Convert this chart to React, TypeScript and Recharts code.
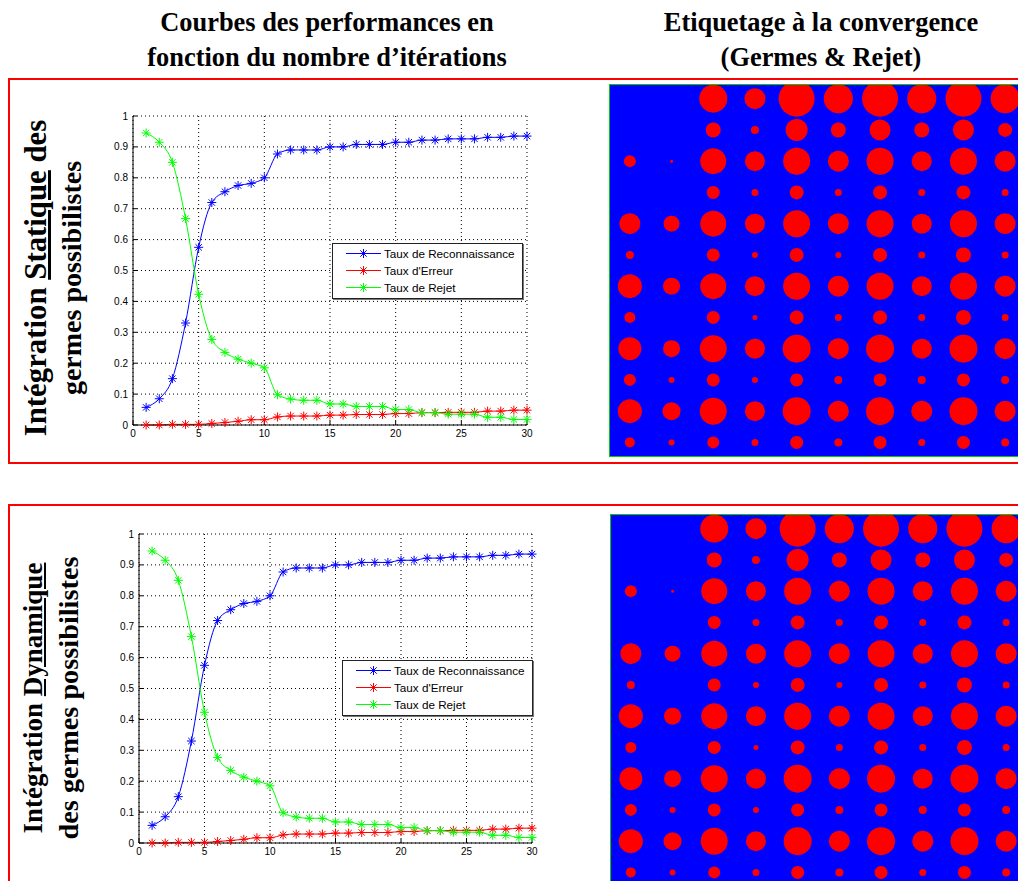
import {
  CartesianGrid,
  Legend,
  Line,
  LineChart,
  Scatter,
  ScatterChart,
  XAxis,
  YAxis,
  ZAxis,
} from 'recharts'

const iterations = [
  1, 2, 3, 4, 5, 6, 7, 8, 9, 10, 11, 12, 13, 14, 15, 16, 17, 18, 19, 20, 21, 22, 23, 24, 25, 26, 27, 28,
  29, 30,
]
const tauxReconnaissance = [
  0.057, 0.085, 0.15, 0.33, 0.575, 0.72, 0.755, 0.775, 0.782, 0.8, 0.877, 0.89, 0.89, 0.89, 0.9, 0.9,
  0.908, 0.908, 0.908, 0.915, 0.915, 0.922, 0.922, 0.926, 0.926, 0.926, 0.931, 0.931, 0.935, 0.935,
]
const tauxErreur = [
  0, 0, 0.002, 0.002, 0.002, 0.005, 0.008, 0.012, 0.017, 0.017, 0.026, 0.029, 0.029, 0.029, 0.032,
  0.032, 0.034, 0.034, 0.034, 0.037, 0.037, 0.04, 0.04, 0.041, 0.041, 0.041, 0.045, 0.045, 0.048, 0.048,
]
const tauxRejet = [
  0.945, 0.915, 0.85, 0.668, 0.423, 0.277, 0.235, 0.213, 0.2, 0.185, 0.098, 0.084, 0.08, 0.08, 0.068,
  0.068, 0.06, 0.06, 0.06, 0.05, 0.05, 0.04, 0.04, 0.035, 0.035, 0.035, 0.025, 0.025, 0.018, 0.018,
]
const xTicks = [0, 5, 10, 15, 20, 25, 30]
const yTicks = [0, 0.1, 0.2, 0.3, 0.4, 0.5, 0.6, 0.7, 0.8, 0.9, 1]
const seriesKeys = ['reco', 'erreur', 'rejet']
const seriesNames = ['Taux de Reconnaissance', "Taux d'Erreur", 'Taux de Rejet']
const seriesColors = ['#0000ff', '#ff0000', '#00ff00']

// diamètre des germes (px) par ligne / colonne de l'image étiquetée, 0 = rien
const germeRows = [
  [0, 0, 28, 21, 36, 29, 36, 29, 36, 29],
  [0, 0, 15, 8, 22, 15, 21, 15, 21, 14],
  [12, 3, 26, 20, 27, 21, 27, 20, 27, 21],
  [0, 0, 13, 7, 14, 7, 14, 7, 14, 7],
  [21, 16, 26, 20, 27, 21, 27, 20, 27, 21],
  [8, 0, 13, 6, 14, 6, 14, 7, 15, 7],
  [24, 17, 26, 20, 27, 21, 27, 20, 27, 21],
  [11, 0, 13, 5, 14, 7, 14, 7, 15, 7],
  [23, 17, 27, 20, 28, 21, 28, 20, 28, 21],
  [12, 6, 13, 6, 13, 8, 13, 8, 13, 8],
  [24, 18, 27, 20, 28, 21, 28, 21, 28, 21],
  [10, 6, 12, 7, 13, 8, 13, 7, 13, 8],
]

const perfData = iterations.map((it, i) => ({
  it,
  reco: tauxReconnaissance[i],
  erreur: tauxErreur[i],
  rejet: tauxRejet[i],
}))

const germeData = germeRows
  .flatMap((row, r) => row.map((d, c) => ({ x: c + 0.5, y: r + 0.5, z: (Math.PI * d * d) / 4 })))
  .filter((p) => p.z > 0)

const serif = '"Liberation Serif", "Times New Roman", serif'
const sans = '"Liberation Sans", Arial, sans-serif'
const tickStyle = { fontSize: 10, fill: '#000', fontFamily: sans }

function Asterisk({ cx, cy, stroke }: { cx?: number; cy?: number; stroke: string }) {
  if (cx == null || cy == null) return null
  const r = 4.5
  const d = 3.2
  return (
    <g stroke={stroke} strokeWidth={1}>
      <line x1={cx - r} y1={cy} x2={cx + r} y2={cy} />
      <line x1={cx} y1={cy - r} x2={cx} y2={cy + r} />
      <line x1={cx - d} y1={cy - d} x2={cx + d} y2={cy + d} />
      <line x1={cx - d} y1={cy + d} x2={cx + d} y2={cy - d} />
    </g>
  )
}

const emptyTick = () => <g />

function LegendBox() {
  return (
    <div
      style={{
        width: 189,
        height: 53,
        background: '#fff',
        border: '1px solid #222',
        boxShadow: '1px 1px 0 #777',
        fontFamily: sans,
        fontSize: 11.7,
        color: '#000',
        paddingTop: 1,
        boxSizing: 'content-box',
      }}
    >
      {seriesNames.map((name, i) => (
        <div key={name} style={{ display: 'flex', alignItems: 'center', height: 17 }}>
          <svg width={51} height={17}>
            <line x1={13} x2={48} y1={8.5} y2={8.5} stroke={seriesColors[i]} />
            <Asterisk cx={30.5} cy={8.5} stroke={seriesColors[i]} />
          </svg>
          <span style={{ whiteSpace: 'nowrap' }}>{name}</span>
        </div>
      ))}
    </div>
  )
}

function PerfChart({ marginRight, legendLeft, legendTop }: { marginRight: number; legendLeft: number; legendTop: number }) {
  return (
    <LineChart width={440} height={350} data={perfData} margin={{ top: 16, right: marginRight, bottom: 5, left: 0 }}>
      <CartesianGrid stroke="#000" strokeDasharray="1 3" />
      <XAxis
        dataKey="it"
        type="number"
        domain={[0, 30]}
        ticks={xTicks}
        interval={0}
        tickSize={-4}
        tickMargin={9}
        height={20}
        stroke="#000"
        tick={tickStyle}
      />
      <XAxis
        xAxisId="top"
        orientation="top"
        dataKey="it"
        type="number"
        domain={[0, 30]}
        ticks={xTicks}
        interval={0}
        tickSize={-4}
        height={0}
        stroke="#000"
        tick={emptyTick}
      />
      <YAxis
        type="number"
        domain={[0, 1]}
        ticks={yTicks}
        interval={0}
        tickSize={-4}
        tickMargin={9}
        width={33}
        stroke="#000"
        tick={tickStyle}
      />
      <YAxis
        yAxisId="right"
        orientation="right"
        type="number"
        domain={[0, 1]}
        ticks={yTicks}
        interval={0}
        tickSize={-4}
        width={0}
        stroke="#000"
        tick={emptyTick}
      />
      <Legend
        layout="vertical"
        align="center"
        verticalAlign="middle"
        content={() => <LegendBox />}
        wrapperStyle={{ left: legendLeft, top: legendTop, width: 'auto' }}
      />
      {seriesKeys.map((key, i) => (
        <Line
          key={key}
          type="monotone"
          dataKey={key}
          name={seriesNames[i]}
          stroke={seriesColors[i]}
          strokeWidth={1}
          dot={(p: any) => <Asterisk key={`${key}-${p.index}`} cx={p.cx} cy={p.cy} stroke={seriesColors[i]} />}
          activeDot={false}
          isAnimationActive={false}
        />
      ))}
    </LineChart>
  )
}

function GermesImage({ left, top, shiftX, shiftY, height }: { left: number; top: number; shiftX: number; shiftY: number; height: number }) {
  return (
    <div
      style={{
        position: 'absolute',
        left,
        top,
        width: 1018 - left + 2,
        height,
        background: '#0000ff',
        border: '1px solid #00cc00',
        overflow: 'hidden',
      }}
    >
      <div style={{ position: 'absolute', left: shiftX, top: shiftY }}>
        <ScatterChart width={417} height={375} margin={{ top: 0, right: 0, bottom: 0, left: 0 }}>
          <XAxis dataKey="x" type="number" domain={[0, 10]} hide />
          <YAxis dataKey="y" type="number" domain={[0, 12]} reversed hide />
          <ZAxis dataKey="z" type="number" domain={[0, 1100]} range={[0, 1100]} />
          <Scatter data={germeData} fill="#ff0000" isAnimationActive={false} />
        </ScatterChart>
      </div>
    </div>
  )
}

function SideLabel({
  cx,
  cy,
  before,
  under,
  after,
  second,
  size1,
  size2,
}: {
  cx: number
  cy: number
  before: string
  under: string
  after: string
  second: string
  size1: number
  size2: number
}) {
  return (
    <div
      style={{
        position: 'absolute',
        left: cx,
        top: cy,
        transform: 'translate(-50%, -50%) rotate(-90deg)',
        fontFamily: serif,
        fontWeight: 'bold',
        lineHeight: '35px',
        textAlign: 'center',
        whiteSpace: 'nowrap',
        color: '#000',
      }}
    >
      <div style={{ fontSize: size1 }}>
        {before}
        <u>{under}</u>
        {after}
      </div>
      <div style={{ fontSize: size2 }}>{second}</div>
    </div>
  )
}

function Header({ cx, lines }: { cx: number; lines: string[] }) {
  return (
    <div
      style={{
        position: 'absolute',
        left: cx,
        top: 5,
        transform: 'translateX(-50%)',
        fontFamily: serif,
        fontWeight: 'bold',
        fontSize: 26.4,
        lineHeight: '35px',
        textAlign: 'center',
        whiteSpace: 'nowrap',
        color: '#000',
      }}
    >
      {lines.map((l) => (
        <div key={l}>{l}</div>
      ))}
    </div>
  )
}

export default function App() {
  return (
    <div style={{ position: 'absolute', left: 0, top: 0, width: 1018, height: 881, overflow: 'hidden', background: '#fff' }}>
      <Header cx={327} lines={['Courbes des performances en', 'fonction du nombre d\u2019itérations']} />
      <Header cx={821} lines={['Etiquetage à la convergence', '(Germes & Rejet)']} />

      <div style={{ position: 'absolute', left: 8, top: 78, width: 1030, height: 382, border: '2px solid #ff0000' }} />
      <div style={{ position: 'absolute', left: 8, top: 504, width: 1030, height: 420, border: '2px solid #ff0000' }} />

      <SideLabel
        cx={54}
        cy={278}
        before="Intégration "
        under="Statique"
        after=" des"
        second="germes possibilistes"
        size1={30.8}
        size2={28}
      />
      <SideLabel
        cx={51}
        cy={698}
        before="Intégration "
        under="Dynamique"
        after=""
        second="des germes possibilistes"
        size1={27}
        size2={28.3}
      />

      <div style={{ position: 'absolute', left: 100, top: 100 }}>
        <PerfChart marginRight={13} legendLeft={232} legendTop={143} />
      </div>
      <div style={{ position: 'absolute', left: 106, top: 518 }}>
        <PerfChart marginRight={14} legendLeft={236} legendTop={142} />
      </div>

      <GermesImage left={609} top={84} shiftX={-1} shiftY={-2} height={371} />
      <GermesImage left={610} top={514} shiftX={-1} shiftY={-2} height={380} />
    </div>
  )
}
